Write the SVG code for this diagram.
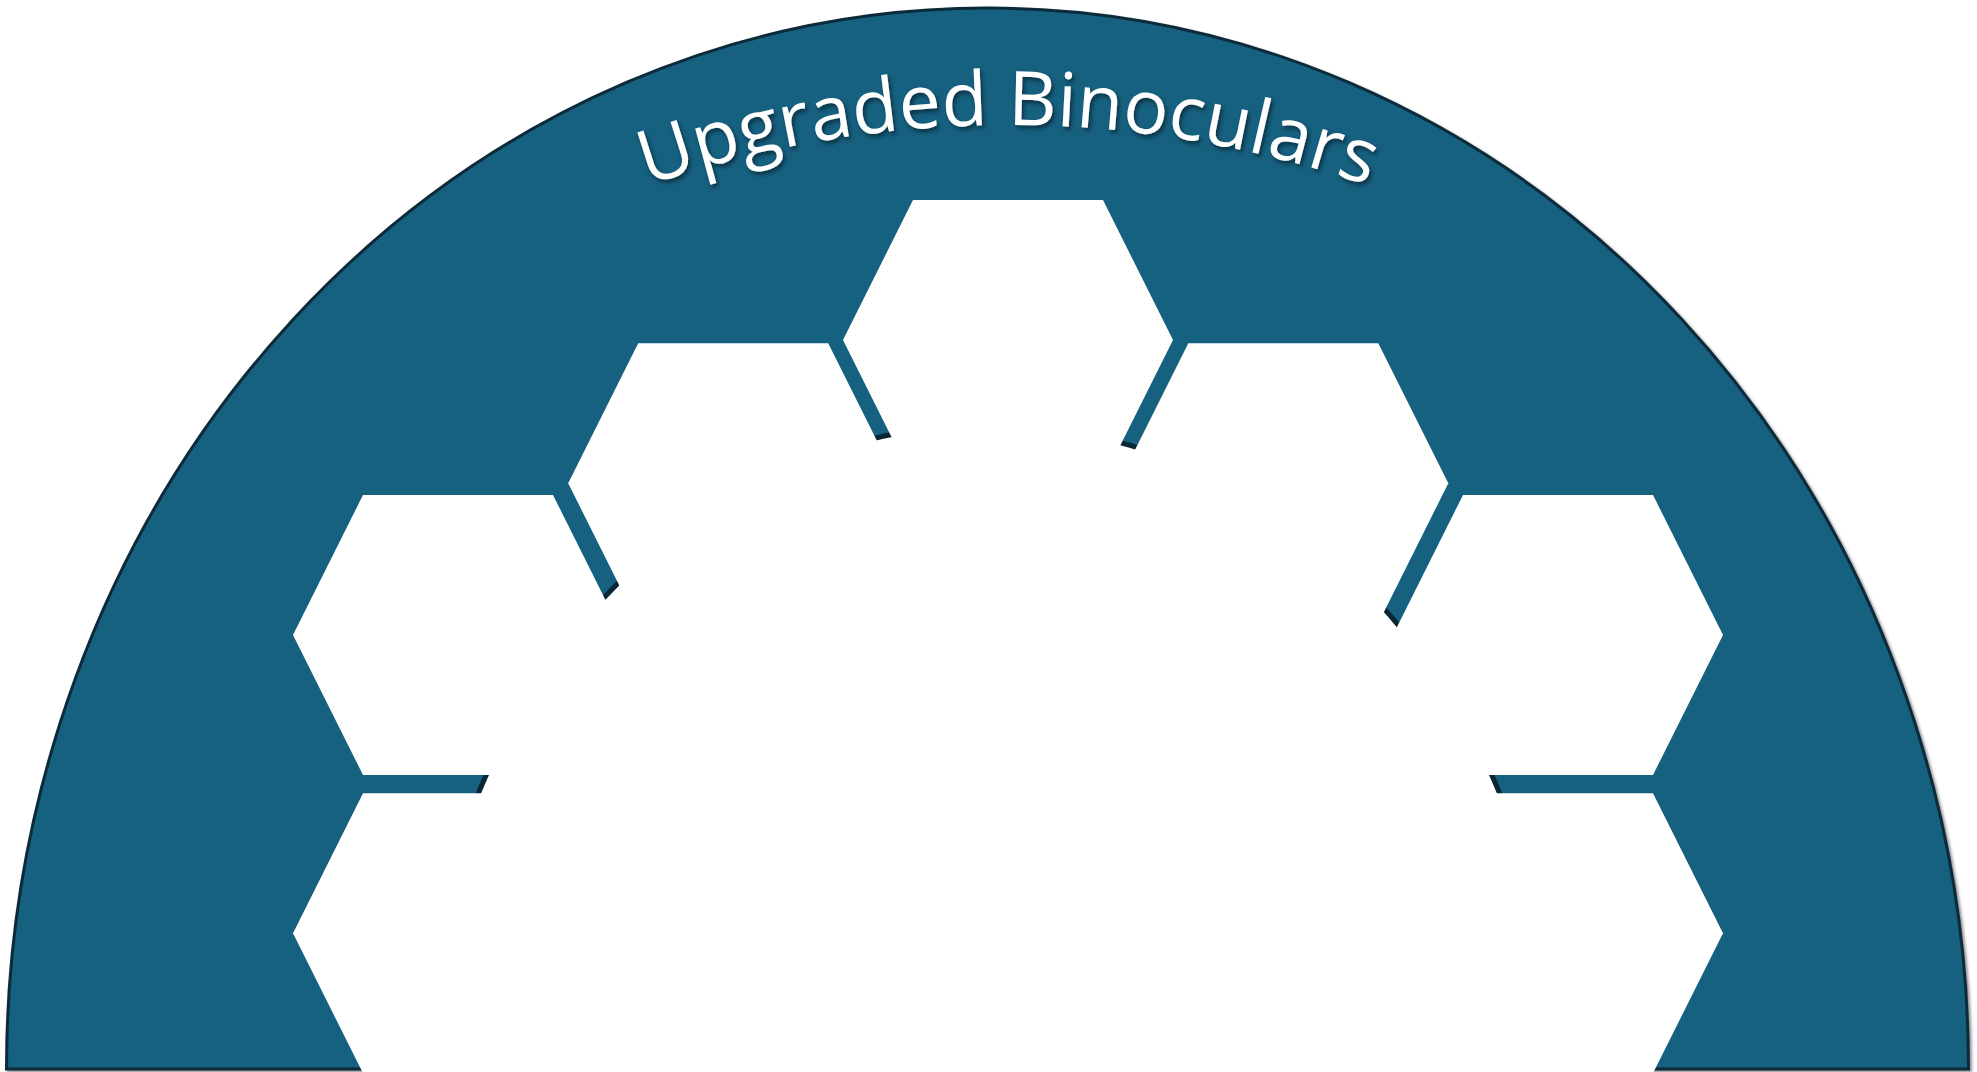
<svg xmlns="http://www.w3.org/2000/svg" width="1977" height="1072" viewBox="0 0 1977 1072">
  <defs>
    <style>
      .hex { fill: #ffffff; stroke: none; }
      .title { font-family: "Open Sans", "Noto Sans", "Liberation Sans", sans-serif; font-size: 75px; fill: #ffffff; letter-spacing: 0px; }
    </style>
    <filter id="outerShadow" x="-5%" y="-5%" width="110%" height="110%">
      <feDropShadow dx="2" dy="2" stdDeviation="1.5" flood-color="#000000" flood-opacity="0.45"/>
    </filter>
    <filter id="textShadow" x="-10%" y="-30%" width="120%" height="160%">
      <feDropShadow dx="2" dy="3" stdDeviation="2" flood-color="#000000" flood-opacity="0.5"/>
    </filter>
    <path id="titleArc" d="M 300.9 382.4 A 1100 1100 0 0 1 1715.1 382.4"/>
  </defs>

  <rect width="1977" height="1072" fill="#ffffff"/>

  <g id="dome">
    <path d="M 6.5 1069 A 981 1061 0 0 1 1968.5 1069 Z" fill="#166080" stroke="#0b2b3b" stroke-width="3" filter="url(#outerShadow)"/>
  </g>

  <g id="center-field">
    <ellipse cx="989" cy="1069" rx="565" ry="644" fill="#ffffff" stroke="#0a2533" stroke-width="5"/>
  </g>

  <g id="hex-top"><polygon class="hex" points="913,200 1103,200 1173,340 1103,480 913,480 843,340"/></g>
  <g id="hex-row2-left"><polygon class="hex" points="638.2,343.3 828.2,343.3 898.2,483.3 828.2,623.3 638.2,623.3 568.2,483.3"/></g>
  <g id="hex-row2-right"><polygon class="hex" points="1188.3,343.3 1378.3,343.3 1448.3,483.3 1378.3,623.3 1188.3,623.3 1118.3,483.3"/></g>
  <g id="hex-row3-left"><polygon class="hex" points="363,495 553,495 623,635 553,775 363,775 293,635"/></g>
  <g id="hex-row3-right"><polygon class="hex" points="1463,495 1653,495 1723,635 1653,775 1463,775 1393,635"/></g>
  <g id="hex-row4-left"><polygon class="hex" points="363,793.3 553,793.3 623,933.3 553,1073.3 363,1073.3 293,933.3"/></g>
  <g id="hex-row4-right"><polygon class="hex" points="1463,793.3 1653,793.3 1723,933.3 1653,1073.3 1463,1073.3 1393,933.3"/></g>

  <g id="title">
    <text class="title" filter="url(#textShadow)"><textPath href="#titleArc" startOffset="50%" text-anchor="middle">Upgraded Binoculars</textPath></text>
  </g>

  <g id="connectors"></g>
</svg>
